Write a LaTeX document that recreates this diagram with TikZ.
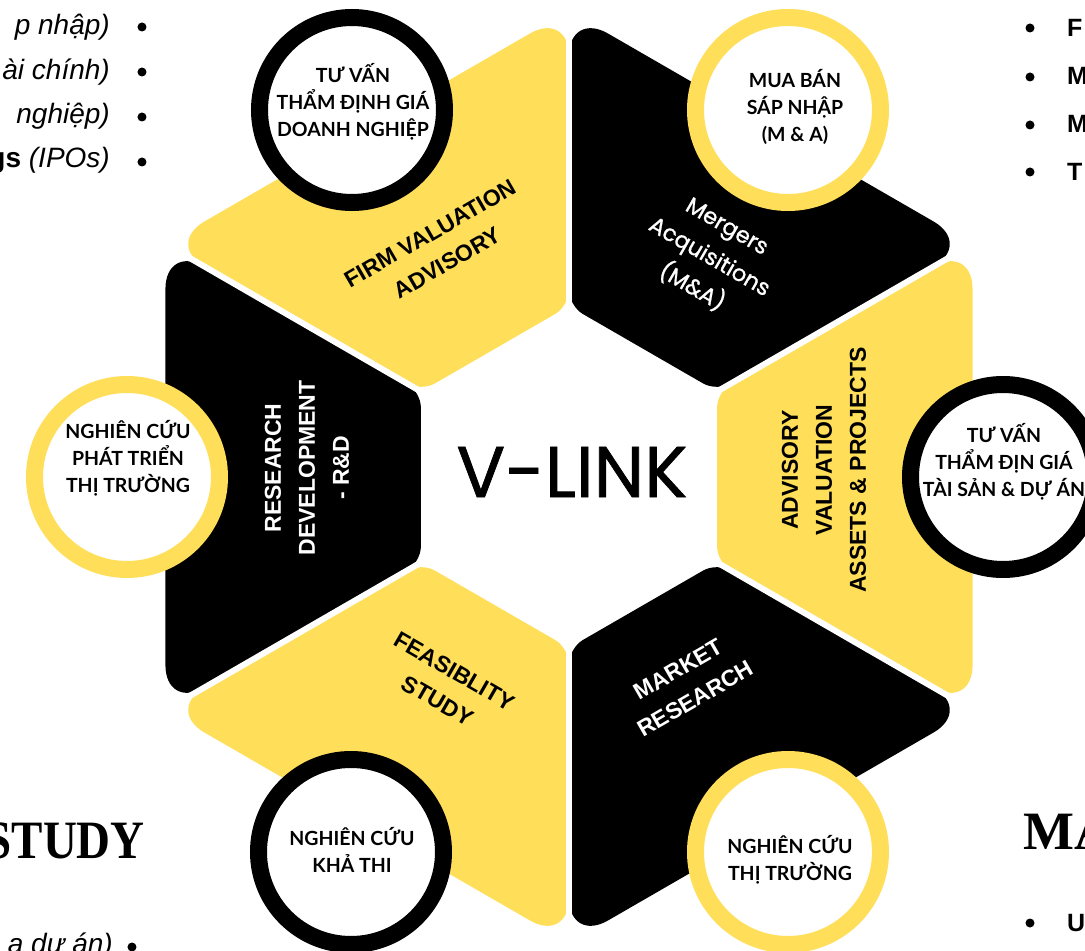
\documentclass[tikz,border=0pt]{standalone}
\usepackage{fontspec}
\setmainfont{Liberation Sans}
\newfontfamily\ringfont{Lato}
\newfontfamily\logofont[FakeBold=1]{Poppins}
\newfontfamily\serif{Liberation Serif}
\usetikzlibrary{calc,positioning}
\definecolor{vyellow}{HTML}{FFDE59}
\tikzset {
  % one segment of the hexagon
  segment/.style = {
    fill = #1
  },
  % white cut between two segments
  cut/.style = {
    draw = white,
    line width = 6pt
  },
  % label written on a segment
  seglabel/.style = {
    align = center,
    inner sep = 0,
    font = \fontsize{23}{34}\selectfont\bfseries
  },
  malabel/.style = {
    align = center,
    inner sep = 0,
    text = white,
    font = \logofont\fontsize{22.5}{35}\selectfont
  }
}
\tikzset {
  % circle round a segment
  ring/.style = {
    circle,
    draw = #1,
    fill = white,
    line width = 17pt,
    minimum size = 185pt,
    inner sep = 0
  },
  ringtext/.style = {
    align = center,
    inner sep = 0,
    font = \ringfont\bfseries\fontsize{19.5}{27}\selectfont
  },
  % bullet of the side lists
  dot/.style = {
    circle,
    fill = black,
    minimum size = 9pt,
    inner sep = 0
  },
  sidetext/.style = {
    inner sep = 0,
    font = \fontsize{28}{34}\selectfont
  },
  heading/.style = {
    inner sep = 0,
    font = \serif\bfseries\fontsize{54}{60}\selectfont
  }
}

\begin{document}
\begin{tikzpicture}[x=1pt, y=1pt]
    \useasboundingbox (-569,-474) rectangle (516,477);
    \clip (-569,-474) rectangle (516,477);

    % outer and inner corners of the hexagon
    \coordinate (o0) at (-30:466);
    \coordinate (o1) at (30:466);
    \coordinate (o2) at (90:466);
    \coordinate (o3) at (150:466);
    \coordinate (o4) at (210:466);
    \coordinate (o5) at (270:466);

    \coordinate (i0) at (-30:171);
    \coordinate (i1) at (30:171);
    \coordinate (i2) at (90:171);
    \coordinate (i3) at (150:171);
    \coordinate (i4) at (210:171);
    \coordinate (i5) at (270:171);

    % segments
    \fill[segment=vyellow] (i0) [rounded corners=45pt] -- (o0) -- (o1)
      [rounded corners=16pt] -- (i1) -- cycle;
    \fill[segment=black] (i1) [rounded corners=45pt] -- (o1) -- (o2)
      [rounded corners=16pt] -- (i2) -- cycle;
    \fill[segment=vyellow] (i2) [rounded corners=45pt] -- (o2) -- (o3)
      [rounded corners=16pt] -- (i3) -- cycle;
    \fill[segment=black] (i3) [rounded corners=45pt] -- (o3) -- (o4)
      [rounded corners=16pt] -- (i4) -- cycle;
    \fill[segment=vyellow] (i4) [rounded corners=45pt] -- (o4) -- (o5)
      [rounded corners=16pt] -- (i5) -- cycle;
    \fill[segment=black] (i5) [rounded corners=45pt] -- (o5) -- (o0)
      [rounded corners=16pt] -- (i0) -- cycle;

    % cuts
    \draw[cut] (i0) -- (o0);
    \draw[cut] (i1) -- (o1);
    \draw[cut] (i2) -- (o2);
    \draw[cut] (i3) -- (o3);
    \draw[cut] (i4) -- (o4);
    \draw[cut] (i5) -- (o5);

    % segment labels
    \node[seglabel, rotate=90] (assets) at (255,7)
      {ADVISORY\\VALUATION\\ASSETS \& PROJECTS};
    \node[malabel, rotate=-30] (mergers) at (140,219)
      {Mergers\\Acquisitions\\(M\&A)};
    \node[seglabel, rotate=30] (firm) at (-130,229)
      {FIRM VALUATION\\ADVISORY};
    \node[seglabel, text=white, rotate=90] (research) at (-262,9)
      {RESEARCH\\DEVELOPMENT\\- R\&D};
    \node[seglabel, rotate=-30] (feasibility) at (-123,-209)
      {FEASIBLITY\\STUDY};
    \node[seglabel, text=white, rotate=30] (market) at (118,-207)
      {MARKET\\RESEARCH};

    \node[font=\logofont\fontsize{72}{80}\selectfont] (vlink) at (3,5) {V-LINK};

    % rings
    \node[ring=black] (ring firm) at (-217,367) {};
    \node[ring=vyellow] (ring mergers) at (219,367) {};
    \node[ring=black] (ring assets) at (434,0) {};
    \node[ring=vyellow] (ring research) at (-442,0) {};
    \node[ring=black] (ring feasibility) at (-218,-375) {};
    \node[ring=vyellow] (ring market) at (219,-375) {};

    \node[ringtext] (firm vn) at (-216,375)
      {TƯ VẤN\\THẨM ĐỊNH GIÁ\\DOANH NGHIỆP};
    \node[ringtext] (mergers vn) at (226,370)
      {MUA BÁN\\SÁP NHẬP\\(M \& A)};
    \node[ringtext] (assets vn) at (435,15)
      {TƯ VẤN\\THẨM ĐỊN GIÁ\\TÀI SẢN \& DỰ ÁN};
    \node[ringtext] (research vn) at (-441,19)
      {NGHIÊN CỨU\\PHÁT TRIỂN\\THỊ TRƯỜNG};
    \node[ringtext] (feasibility vn) at (-217,-373)
      {NGHIÊN CỨU\\KHẢ THI};
    \node[ringtext] (market vn) at (221,-383)
      {NGHIÊN CỨU\\THỊ TRƯỜNG};

    % left list
    \node[dot] (dot l1) at (-427,450) {};
    \node[dot] (dot l2) at (-427,405) {};
    \node[dot] (dot l3) at (-427,360) {};
    \node[dot] (dot l4) at (-427,315) {};
    \node[sidetext, anchor=base east] (item l1) at (-459,442) {\itshape p nhập)};
    \node[sidetext, anchor=base east] (item l2) at (-459,397) {\itshape ài chính)};
    \node[sidetext, anchor=base east] (item l3) at (-459,353) {\itshape nghiệp)};
    \node[sidetext, anchor=base east] (item l4) at (-459,309)
      {\bfseries gs \mdseries\itshape(IPOs)};

    % right list
    \node[dot] (dot r1) at (461,449) {};
    \node[dot] (dot r2) at (461,400) {};
    \node[dot] (dot r3) at (461,352) {};
    \node[dot] (dot r4) at (461,305) {};
    \node[sidetext, font=\fontsize{25}{30}\selectfont\bfseries, anchor=base west] (item r1) at (498,440) {F};
    \node[sidetext, font=\fontsize{25}{30}\selectfont\bfseries, anchor=base west] (item r2) at (498,392) {M};
    \node[sidetext, font=\fontsize{25}{30}\selectfont\bfseries, anchor=base west] (item r3) at (498,344) {M};
    \node[sidetext, font=\fontsize{25}{30}\selectfont\bfseries, anchor=base west] (item r4) at (498,296) {T};

    % headings at the bottom
    \node[heading, anchor=base east, transform shape, xscale=0.87] (study) at (-424,-381) {STUDY};
    \node[dot] (dot b1) at (-437,-470) {};
    \node[sidetext, anchor=base east] (item b1) at (-456,-476) {\itshape a dự án)};

    \node[heading, anchor=base west] (ma) at (454,-372) {MA};
    \node[dot] (dot b2) at (461,-446) {};
    \node[sidetext, font=\fontsize{25}{30}\selectfont\bfseries, anchor=base west] (item b2) at (498,-454) {U};
\end{tikzpicture}
\end{document}
